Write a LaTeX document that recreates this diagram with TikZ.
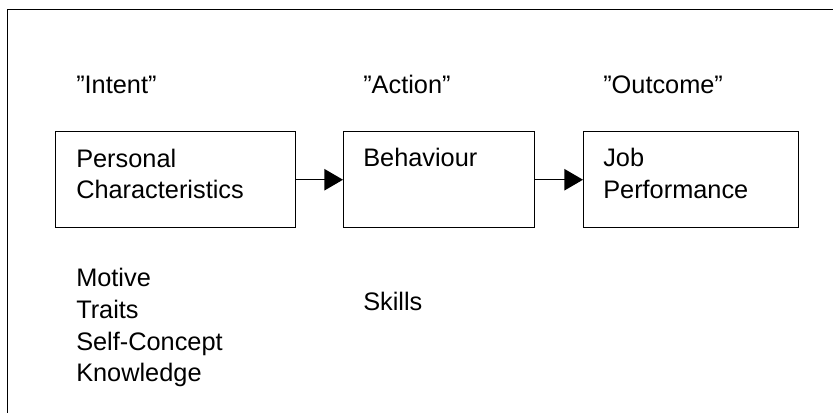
\documentclass[tikz,border=0pt]{standalone}
\usepackage{fontspec}
\setmainfont{Liberation Sans}
\usetikzlibrary{arrows.meta}
\begin{document}
\begin{tikzpicture}[x=0.75pt,y=-0.75pt,
  stagebox/.style={draw=black,line width=1.1pt,rectangle,minimum width=240*0.75pt,minimum height=96*0.75pt,inner sep=0pt,anchor=north west},
  txt/.style={anchor=base west,inner sep=0pt,align=left,font=\fontsize{19}{23.8}\selectfont},
  conn/.style={line width=1.1pt,-{Triangle[length=14pt,width=16pt]}}]
\useasboundingbox (0,0) rectangle (833,413);
\clip (0,0) rectangle (833,413);
\draw[line width=1.1pt] (7.5,9.5) rectangle (900,450);
% headings
\node[txt] (hIntent) at (76,94) {”Intent”};
\node[txt] (hAction) at (363,94) {”Action”};
\node[txt] (hOutcome) at (603,94) {”Outcome”};
% boxes
\node[stagebox,minimum width=240*0.75pt] (pc) at (55,131) {};
\node[stagebox,minimum width=191*0.75pt] (beh) at (343,131) {};
\node[stagebox,minimum width=215*0.75pt] (jp) at (583,131) {};
% box texts (base = last line)
\node[txt] (tpc) at (76,199) {Personal\\Characteristics};
\node[txt] (tbeh) at (363,167) {Behaviour};
\node[txt] (tjp) at (603,198.5) {Job\\Performance};
% connectors
\draw[conn] (pc.east) -- (beh.west);
\draw[conn] (beh.east) -- (jp.west);
% lists
\node[txt] (lpc) at (76,382) {Motive\\Traits\\Self-Concept\\Knowledge};
\node[txt] (lbeh) at (363,311) {Skills};
\end{tikzpicture}
\end{document}
